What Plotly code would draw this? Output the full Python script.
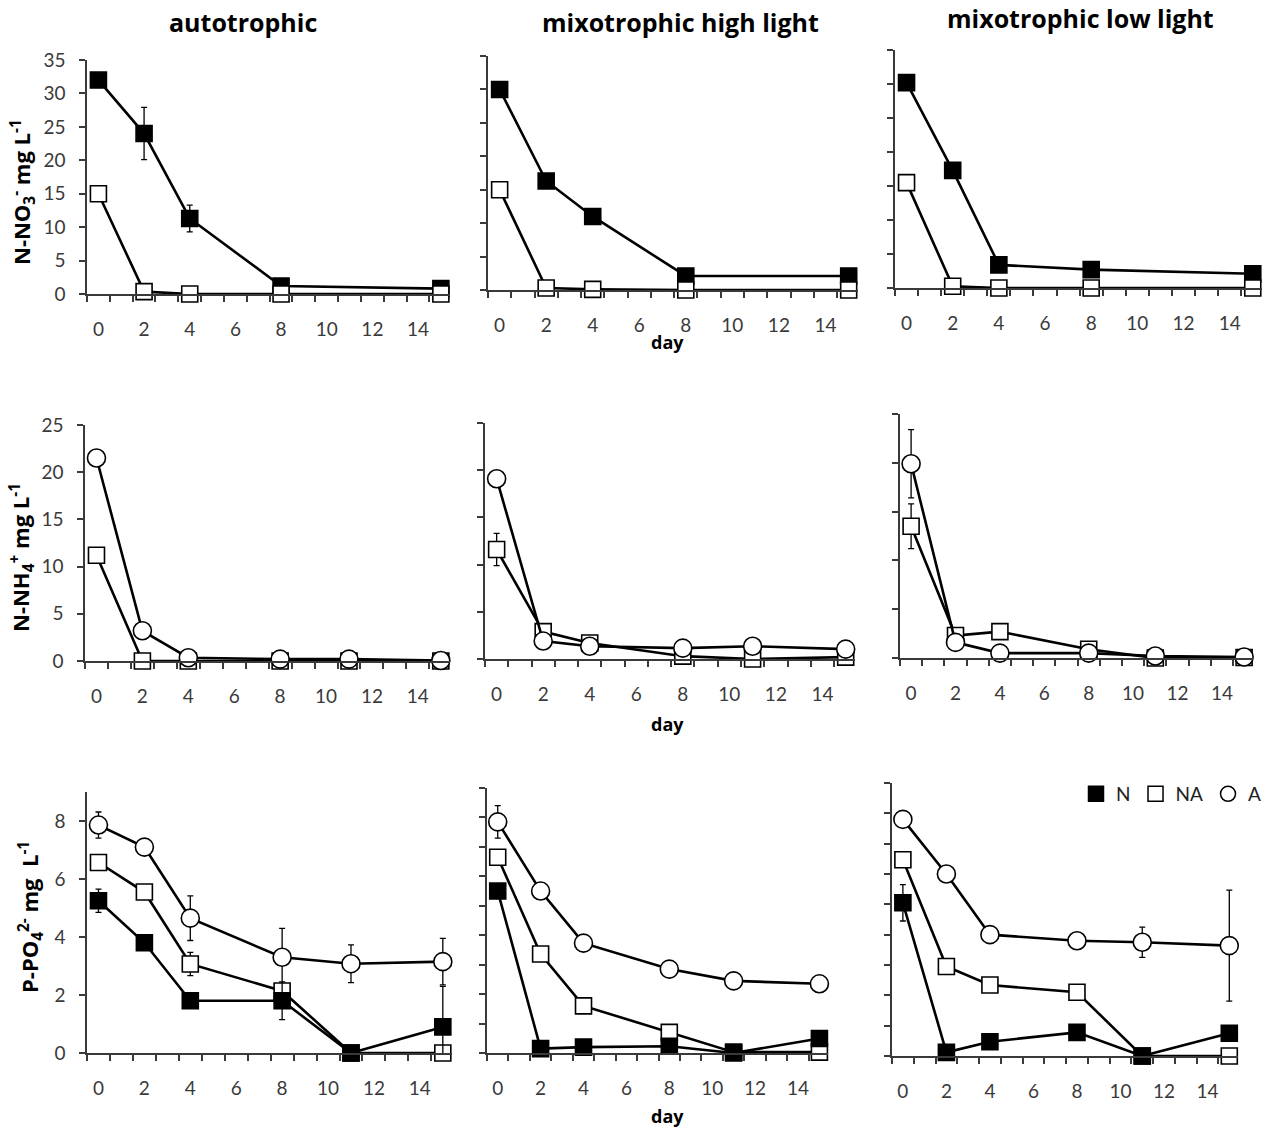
import plotly.graph_objects as go

# ---------------- data ----------------
days_no3 = [0, 2, 4, 8, 15]
days = [0, 2, 4, 8, 11, 15]

conditions = ["autotrophic", "mixotrophic high light", "mixotrophic low light"]
series_names = ["N", "NA", "A"]

# N-NO3- (mg/L): N and NA treatments
no3_N = [
    [32.0, 24.0, 11.3, 1.2, 0.8],
    [30.0, 16.3, 11.0, 2.1, 2.1],
    [30.2, 17.3, 3.4, 2.7, 2.1],
]
no3_N_err = [
    [1.0, 3.9, 2.0, 0, 0],
    [0, 0, 0, 0, 0],
    [0, 0, 0.9, 0, 0],
]
no3_NA = [
    [15.0, 0.35, 0.0, 0.0, 0.0],
    [15.0, 0.3, 0.1, 0.0, 0.0],
    [15.5, 0.25, 0.0, 0.0, 0.0],
]

# N-NH4+ (mg/L): NA and A treatments
nh4_NA = [
    [11.2, 0.0, 0.0, 0.0, 0.0, 0.0],
    [11.6, 2.9, 1.7, 0.3, 0.0, 0.2],
    [13.5, 2.3, 2.7, 0.9, 0.0, 0.05],
]
nh4_NA_err = [
    [0, 0, 0, 0, 0, 0],
    [1.7, 0, 0, 0, 0, 0],
    [2.3, 0, 0, 0, 0, 0],
]
nh4_A = [
    [21.5, 3.2, 0.35, 0.2, 0.2, 0.05],
    [19.1, 1.9, 1.35, 1.15, 1.35, 1.05],
    [19.9, 1.6, 0.5, 0.5, 0.2, 0.1],
]
nh4_A_err = [
    [0, 0, 0, 0, 0, 0],
    [0, 0, 0, 0, 0, 0],
    [3.5, 0, 0, 0, 0, 0],
]

# P-PO4 (mg/L): N, NA and A treatments
po4_N = [
    [5.25, 3.8, 1.8, 1.8, 0.0, 0.9],
    [5.5, 0.15, 0.2, 0.23, 0.0, 0.49],
    [5.05, 0.12, 0.47, 0.78, 0.0, 0.75],
]
po4_N_err = [
    [0.4, 0, 0, 0.65, 0, 1.4],
    [0, 0, 0, 0, 0, 0],
    [0.6, 0, 0, 0, 0, 0],
]
po4_NA = [
    [6.57, 5.55, 3.07, 2.14, 0.0, 0.0],
    [6.65, 3.36, 1.6, 0.7, 0.03, 0.03],
    [6.47, 2.95, 2.34, 2.1, 0.0, 0.0],
]
po4_NA_err = [
    [0, 0, 0.4, 0, 0, 0],
    [0, 0, 0, 0, 0, 0],
    [0, 0, 0, 0, 0, 0],
]
po4_A = [
    [7.86, 7.1, 4.65, 3.3, 3.08, 3.15],
    [7.85, 5.5, 3.73, 2.85, 2.45, 2.35],
    [7.8, 6.0, 4.0, 3.8, 3.75, 3.64],
]
po4_A_err = [
    [0.45, 0, 0.77, 1.0, 0.65, 0.8],
    [0.55, 0, 0, 0, 0, 0],
    [0, 0, 0, 0, 0.5, 1.83],
]

row_titles = [
    "N-NO<sub>3</sub><sup>-</sup> mg L<sup>-1</sup>",
    "N-NH<sub>4</sub><sup>+</sup> mg L<sup>-1</sup>",
    "P-PO<sub>4</sub><sup>2-</sup> mg  L<sup>-1</sup>",
]
y_ranges = [[0, 35], [0, 25], [0, 9]]
x_range = [-0.5, 15.4]
xtick_vals = [0, 2, 4, 6, 8, 10, 12, 14]

# ---------------- layout geometry (pixels) ----------------
W, H = 1266, 1130
# (left, right, top, bottom) of each panel
boxes = [
    [(87, 450, 60, 294), (488, 858, 56, 290), (895, 1262, 50, 288)],
    [(85, 450, 425, 661), (485, 855, 423, 659), (900, 1253, 414, 658)],
    [(87, 452, 792, 1053), (487, 828, 788, 1053), (892, 1238, 783, 1056)],
]

TICKFONT = "Lato"
BOLDFONT = "Open Sans"
AX = "#3a3a3a"
LBL = "#3a3a3a"

fig = go.Figure()

styles = {
    "N": dict(symbol="square", color="black", size=16),
    "NA": dict(symbol="square", color="white", size=16),
    "A": dict(symbol="circle", color="white", size=18),
}


def add_series(idx, x, y, err, name):
    st = styles[name]
    ax = "" if idx == 1 else str(idx)
    fig.add_trace(go.Scatter(
        x=x, y=y, mode="lines+markers", name=name, showlegend=False,
        xaxis="x" + ax, yaxis="y" + ax, cliponaxis=False,
        line=dict(color="black", width=2.6),
        marker=dict(symbol=st["symbol"], size=st["size"], color=st["color"],
                    line=dict(color="black", width=1.6)),
        error_y=dict(type="data", array=err, visible=True, color="black",
                     thickness=1.3, width=3) if err is not None else None,
    ))


for c in range(3):
    # row 1
    idx = 1 + c
    add_series(idx, days_no3, no3_N[c], no3_N_err[c], "N")
    add_series(idx, days_no3, no3_NA[c], None, "NA")
    # row 2
    idx = 4 + c
    add_series(idx, days, nh4_NA[c], nh4_NA_err[c], "NA")
    add_series(idx, days, nh4_A[c], nh4_A_err[c], "A")
    # row 3
    idx = 7 + c
    add_series(idx, days, po4_A[c], po4_A_err[c], "A")
    add_series(idx, days, po4_NA[c], po4_NA_err[c], "NA")
    add_series(idx, days, po4_N[c], po4_N_err[c], "N")

# legend-only entries (marker only)
for name in series_names:
    st = styles[name]
    fig.add_trace(go.Scatter(
        x=[None], y=[None], mode="markers", name=name, showlegend=True,
        xaxis="x9", yaxis="y9",
        marker=dict(symbol=st["symbol"], size=15, color=st["color"],
                    line=dict(color="black", width=1.5)),
    ))

layout = dict(
    width=W, height=H, margin=dict(l=0, r=0, t=0, b=0, autoexpand=False),
    paper_bgcolor="white", plot_bgcolor="white",
    font=dict(family=TICKFONT, color=LBL),
    showlegend=True,
    legend=dict(orientation="h", x=1076 / W, y=1 - 775 / H, xanchor="left", yanchor="top",
                font=dict(size=19, family=TICKFONT, color="#222"), itemwidth=30,
                tracegroupgap=0, bgcolor="rgba(0,0,0,0)"),
)

for r in range(3):
    for c in range(3):
        idx = r * 3 + c + 1
        l, rt, t, b = boxes[r][c]
        sfx = "" if idx == 1 else str(idx)
        show_lbl = (c == 0)
        if r == 2 and c == 0:
            ydt = 2
        elif r == 2:
            ydt = 1
        else:
            ydt = 5
        layout["xaxis" + sfx] = dict(
            domain=[l / W, rt / W], range=x_range, anchor="y" + sfx,
            showline=True, linecolor=AX, linewidth=1.5, showgrid=False, zeroline=False,
            tickmode="array", tickvals=xtick_vals, ticks="", ticklabelstandoff=17,
            tickfont=dict(size=19, family=TICKFONT, color=LBL),
            minor=dict(tickmode="linear", tick0=-0.5, dtick=1, ticks="outside",
                       ticklen=6, tickwidth=1.5, tickcolor=AX, showgrid=False),
        )
        layout["yaxis" + sfx] = dict(
            domain=[1 - b / H, 1 - t / H], range=y_ranges[r], anchor="x" + sfx,
            showline=True, linecolor=AX, linewidth=1.5, showgrid=False, zeroline=False,
            tickmode="linear", tick0=0, dtick=ydt, ticks="outside", ticklen=6,
            tickwidth=1.5, tickcolor=AX, showticklabels=show_lbl, ticklabelstandoff=10,
            tickfont=dict(size=19, family=TICKFONT, color=LBL),
        )

fig.update_layout(**layout)

annotations = []
title_x = [243, 680, 1080]
title_y = [22, 22, 18]
for c in range(3):
    annotations.append(dict(text="<b>%s</b>" % conditions[c], x=title_x[c] / W, y=1 - title_y[c] / H,
                            xref="paper", yref="paper", showarrow=False,
                            font=dict(size=25, family=BOLDFONT, color="black"),
                            xanchor="center", yanchor="middle"))
day_y = [342, 724, 1116]
for r in range(3):
    annotations.append(dict(text="<b>day</b>", x=667 / W, y=1 - day_y[r] / H,
                            xref="paper", yref="paper", showarrow=False,
                            font=dict(size=18, family=BOLDFONT, color="black"),
                            xanchor="center", yanchor="middle"))
ytitle_y = [192, 558, 917]
ytitle_x = [22, 22, 30]
for r in range(3):
    annotations.append(dict(text="<b>%s</b>" % row_titles[r], x=ytitle_x[r] / W, y=1 - ytitle_y[r] / H,
                            xref="paper", yref="paper", showarrow=False, textangle=-90,
                            font=dict(size=22, family=BOLDFONT, color="black"),
                            xanchor="center", yanchor="middle"))
fig.update_layout(annotations=annotations)

fig.write_html("out.html", config={"displayModeBar": False},
               post_script="document.body.style.margin='0';")
